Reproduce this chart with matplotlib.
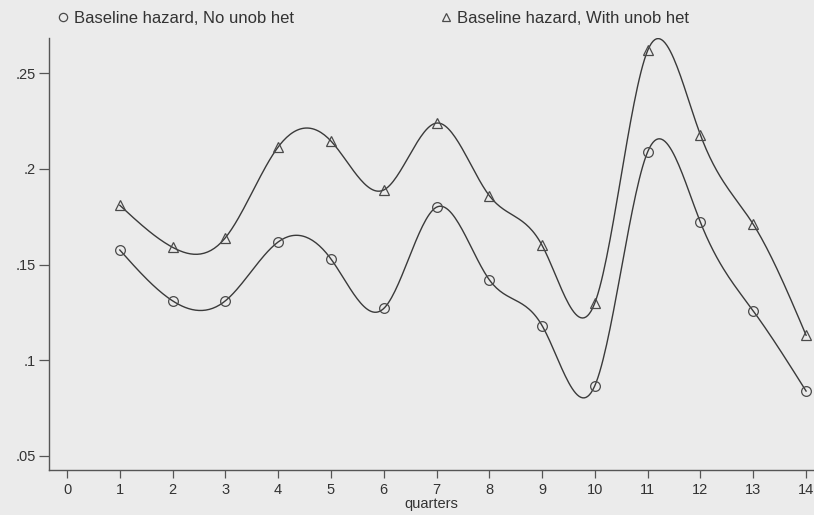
import numpy as np
import matplotlib.pyplot as plt
from matplotlib.ticker import FixedLocator

plt.rcParams['font.family'] = ['Liberation Sans Narrow', 'Liberation Sans', 'DejaVu Sans']

# Baseline hazard by quarter, with and without unobserved heterogeneity
quarters = np.arange(1, 15)
hazard_no_het = [0.1576, 0.131, 0.131, 0.1618, 0.1529, 0.127, 0.180,
                 0.142, 0.118, 0.0867, 0.209, 0.172, 0.1257, 0.0838]
hazard_with_het = [0.181, 0.159, 0.164, 0.2115, 0.2146, 0.189, 0.224,
                   0.186, 0.160, 0.130, 0.262, 0.2177, 0.171, 0.113]

label_no_het = "Baseline hazard, No unob het"
label_with_het = "Baseline hazard, With unob het"
x_ticks = list(range(0, 15))
y_ticks = [0.05, 0.1, 0.15, 0.2, 0.25]
y_ticklabels = [".05", ".1", ".15", ".2", ".25"]


def natural_spline(x, y, n=400):
    # natural cubic spline through the points, used only to draw the connecting curve
    x = np.asarray(x, float)
    y = np.asarray(y, float)
    k = len(x)
    h = np.diff(x)
    A = np.zeros((k, k))
    b = np.zeros(k)
    A[0, 0] = A[-1, -1] = 1.0
    for i in range(1, k - 1):
        A[i, i - 1] = h[i - 1]
        A[i, i] = 2 * (h[i - 1] + h[i])
        A[i, i + 1] = h[i]
        b[i] = 3 * ((y[i + 1] - y[i]) / h[i] - (y[i] - y[i - 1]) / h[i - 1])
    c = np.linalg.solve(A, b)
    xs = np.linspace(x[0], x[-1], n)
    idx = np.clip(np.searchsorted(x, xs) - 1, 0, k - 2)
    t = xs - x[idx]
    hi = h[idx]
    bb = (y[idx + 1] - y[idx]) / hi - hi * (2 * c[idx] + c[idx + 1]) / 3
    dd = (c[idx + 1] - c[idx]) / (3 * hi)
    ys = y[idx] + bb * t + c[idx] * t ** 2 + dd * t ** 3
    return xs, ys


bg = '#ebebeb'
ink = '#3a3a3a'

fig = plt.figure(figsize=(8.14, 5.15), dpi=100, facecolor=bg)
ax = fig.add_axes([49 / 814, 45 / 515, 765 / 814, 432 / 515], facecolor=bg)

for vals, marker, label in [(hazard_no_het, 'o', label_no_het),
                            (hazard_with_het, '^', label_with_het)]:
    xs, ys = natural_spline(quarters, vals)
    ax.plot(xs, ys, color=ink, lw=1.0)
    ax.plot(quarters, vals, linestyle='none', marker=marker, markersize=7,
            markerfacecolor='none', markeredgecolor='#4a4a4a',
            markeredgewidth=0.9, label=label)

ax.set_xlim(-0.341, 14.15)
ax.set_ylim(0.0425, 0.2685)

ax.xaxis.set_major_locator(FixedLocator(x_ticks))
ax.set_yticks(y_ticks)
ax.set_yticklabels(y_ticklabels)

for side in ['top', 'right']:
    ax.spines[side].set_visible(False)
for side in ['left', 'bottom']:
    ax.spines[side].set_color('#555555')
    ax.spines[side].set_linewidth(1.0)

ax.tick_params(axis='x', direction='out', length=6, width=0.9, colors='#555555',
               labelcolor='#333333', labelsize=10.5, pad=3.5)
ax.tick_params(axis='y', direction='out', length=7.5, width=0.9, colors='#555555',
               labelcolor='#333333', labelsize=10.5, pad=2)

ax.set_xlabel("quarters", fontsize=10.5, color='#333333', labelpad=0)

leg = ax.legend(loc='upper left', bbox_to_anchor=(47 / 814, 1.0), bbox_transform=fig.transFigure,
                ncol=2, frameon=False, fontsize=12, handlelength=0.6,
                handletextpad=0.35, columnspacing=8.85, markerscale=0.85,
                borderaxespad=0.25)
for txt in leg.get_texts():
    txt.set_color('#333333')

fig.savefig('out.png', dpi=100, facecolor=bg)
